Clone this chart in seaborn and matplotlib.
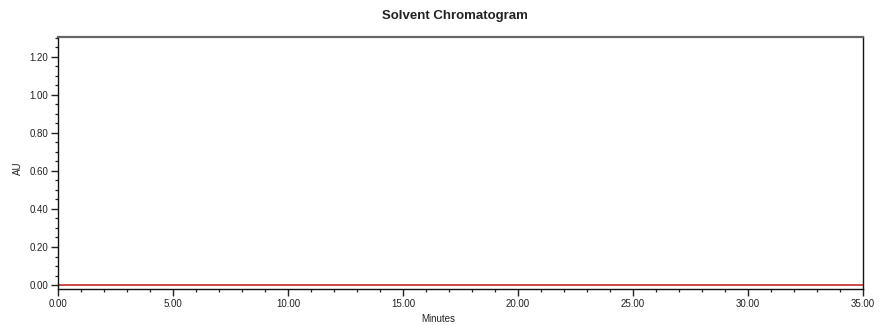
import matplotlib
matplotlib.use("Agg")
import matplotlib.pyplot as plt
from matplotlib.ticker import MultipleLocator, FormatStrFormatter
import seaborn as sns
import pandas as pd

# Data
minutes = [0.0, 5.0, 10.0, 15.0, 20.0, 25.0, 30.0, 35.0]
au = [0.0, 0.0, 0.0, 0.0, 0.0, 0.0, 0.0, 0.0]
title = "Solvent Chromatogram"
x_label = "Minutes"
y_label = "AU"

sns.set_theme(style="white")
plt.rcParams['font.family'] = ['Liberation Sans', 'DejaVu Sans']

df = pd.DataFrame({"Minutes": minutes, "AU": au})

fig = plt.figure(figsize=(8.81, 3.25), dpi=100)
ax = fig.add_axes([58 / 881, 1 - 289 / 325, (863 - 58) / 881, (289 - 37) / 325])

sns.lineplot(data=df, x="Minutes", y="AU", ax=ax, color="#cc3a3a", linewidth=1.3)

ax.set_xlim(0, 35)
ax.set_ylim(-0.021, 1.305)

ax.xaxis.set_major_locator(MultipleLocator(5))
ax.xaxis.set_minor_locator(MultipleLocator(1))
ax.yaxis.set_major_locator(MultipleLocator(0.2))
ax.yaxis.set_minor_locator(MultipleLocator(0.05))
ax.xaxis.set_major_formatter(FormatStrFormatter("%.2f"))
ax.yaxis.set_major_formatter(FormatStrFormatter("%.2f"))

ax.tick_params(axis="both", which="major", direction="out", length=5, width=1,
               colors="#222222", labelsize=7, pad=2)
ax.tick_params(axis="both", which="minor", direction="out", length=2.5, width=0.9,
               colors="#222222")
ax.tick_params(axis="x", which="both", bottom=True, top=False)
ax.tick_params(axis="y", which="both", left=True, right=False)

for side in ["left", "bottom", "right"]:
    ax.spines[side].set_color("#111111")
    ax.spines[side].set_linewidth(1.0)
ax.spines["top"].set_color("#666666")
ax.spines["top"].set_linewidth(1.6)

ax.set_xlabel(x_label, fontsize=7, labelpad=-2, color="#222222")
ax.xaxis.set_label_coords((438 - 58) / (863 - 58), -0.1)
ax.set_ylabel(y_label, fontsize=7, color="#222222")
ax.yaxis.set_label_coords(-0.044, 0.48)
ax.set_title(title, fontsize=9.5, fontweight="bold", color="#222222", pad=13)
ax.title.set_position(((455 - 58) / (863 - 58), 1.0))

fig.savefig("out.png", dpi=100)
